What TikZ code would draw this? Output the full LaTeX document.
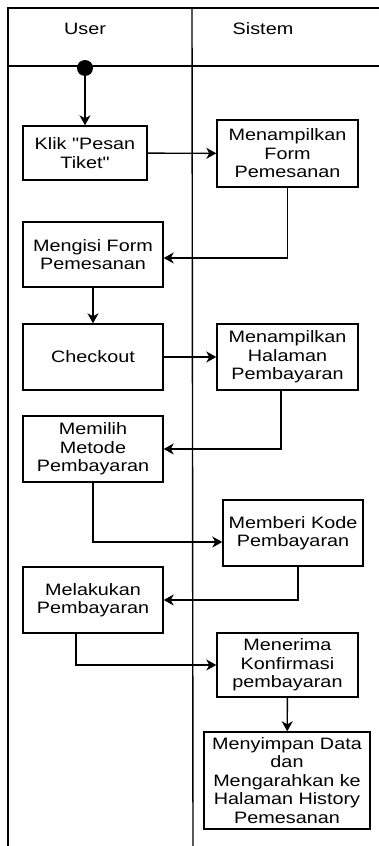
\documentclass[tikz,border=0pt]{standalone}
\usepackage{fontspec}
\setmainfont{Liberation Sans}[FakeStretch=1.2, Ligatures=TeXOff]
\usetikzlibrary{arrows.meta}
\begin{document}
\begin{tikzpicture}[x=1pt,y=-1pt,
  txt/.style={font=\fontsize{16.5}{18.5}\selectfont, align=center, inner sep=0pt},
  box/.style={txt, draw, line width=1.4pt},
  arr/.style={line width=1.4pt, -{Stealth[length=10pt,width=11pt,inset=3pt]}},
  lane/.style={line width=1.4pt}]
\useasboundingbox (0,0) rectangle (379,846);
% swimlane frame
\coordinate (tl) at (8,8);
\coordinate (tr) at (379,8);
\coordinate (bl) at (8,846);
\coordinate (hl) at (8,66);
\coordinate (hr) at (379,66);
\coordinate (dt) at (192,8);
\coordinate (db) at (193,846);
\draw[lane] (tr) -- (tl) -- (bl);
\draw[lane] (hl) -- (hr);
\draw[lane] (dt) -- (db);
\node[txt] (user) at (85,29) {User};
\node[txt] (sistem) at (263,29) {Sistem};
% start
\node[circle, fill, minimum size=16pt, inner sep=0pt] (start) at (85,68) {};
% boxes
\node[box, minimum width=124pt, minimum height=54pt] (b1) at (85,153) {Klik "Pesan\\Tiket"};
\node[box, minimum width=141pt, minimum height=67pt] (b2) at (287.5,153.5) {Menampilkan\\Form\\Pemesanan};
\node[box, minimum width=140pt, minimum height=65pt] (b3) at (93,254.5) {Mengisi Form\\Pemesanan};
\node[box, minimum width=140pt, minimum height=66pt] (b4) at (93,357) {Checkout};
\node[box, minimum width=141pt, minimum height=66pt] (b5) at (287.5,357) {Menampilkan\\Halaman\\Pembayaran};
\node[box, minimum width=140pt, minimum height=66pt] (b6) at (93,449) {Memilih\\Metode\\Pembayaran};
\node[box, minimum width=140pt, minimum height=66pt] (b7) at (293,533) {Memberi Kode\\Pembayaran};
\node[box, minimum width=140pt, minimum height=66pt] (b8) at (93,600) {Melakukan\\Pembayaran};
\node[box, minimum width=141pt, minimum height=64pt] (b9) at (287.5,665) {Menerima\\Konfirmasi\\pembayaran};
\node[box, minimum width=166pt, minimum height=97pt] (b10) at (287,780.5) {Menyimpan Data\\dan\\Mengarahkan ke\\Halaman History\\Pemesanan};
% connectors
\draw[arr] (start) -- (b1);
\draw[arr] (b1) -- (b2);
\draw[arr] (b2.south) |- ([yshift=-3.5pt]b3.east);
\draw[arr] (b3) -- (b4);
\draw[arr] (b4) -- (b5);
\draw[arr] ([xshift=-6.5pt]b5.south) |- (b6.east);
\draw[arr] (b6.south) |- ([yshift=-9pt]b7.west);
\draw[arr] ([xshift=5pt]b7.south) |- (b8.east);
\draw[arr] ([xshift=-17pt]b8.south) |- (b9.west);
\draw[arr] (b9) -- (b10);
\end{tikzpicture}
\end{document}
